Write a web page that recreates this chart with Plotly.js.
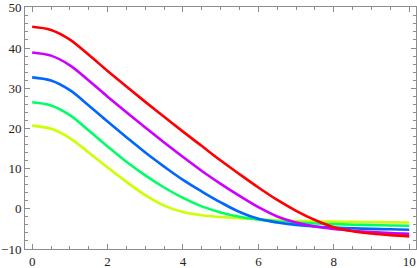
<!DOCTYPE html>
<html>
<head>
<meta charset="utf-8">
<script src="https://cdn.plot.ly/plotly-3.0.1.min.js"></script>
<style>html,body{margin:0;padding:0;background:#fff}#chart{width:417px;height:268px}</style>
</head>
<body>
<div id="chart"></div>
<script>
const xs      = [0,0.5,1,1.5,2,2.5,3,3.5,4,4.5,5,5.5,6,6.5,7,7.5,8,8.5,9,9.5,10];
const redY    = [45.3,44.5,42.1,38.3,34.3,30.4,26.6,22.9,19.2,15.6,12.0,8.6,5.3,2.2,-0.5,-2.8,-4.6,-5.6,-6.15,-6.55,-6.85];
const purpleY = [38.9,38.1,35.7,31.9,27.9,24.0,20.2,16.5,12.9,9.4,6.2,3.2,0.4,-1.9,-3.4,-4.4,-5.0,-5.45,-5.8,-6.05,-6.2];
const blueY   = [32.7,31.9,29.5,25.7,21.7,17.8,14.0,10.5,7.2,4.3,1.6,-0.8,-2.5,-3.4,-4.0,-4.4,-4.65,-4.85,-5.0,-5.1,-5.2];
const greenY  = [26.5,25.7,23.3,19.5,15.5,11.7,8.3,5.3,2.7,0.6,-0.9,-2.0,-2.7,-3.15,-3.45,-3.65,-3.8,-3.95,-4.05,-4.15,-4.2];
const yellowY = [20.7,19.9,17.6,14.0,10.3,6.7,3.4,0.8,-0.8,-1.6,-2.05,-2.35,-2.6,-2.85,-3.0,-3.1,-3.2,-3.25,-3.3,-3.35,-3.4];
const seriesY = [yellowY, greenY, blueY, purpleY, redY];
const colors = ['#ccff00','#00ff66','#0066ff','#cc00ff','#ff0000'];
const xTicks = [0,2,4,6,8,10];
const yTicks = [-10,0,10,20,30,40,50];

const serif = 'Liberation Serif, Times New Roman, Times, serif';

const traces = seriesY.map((ys,i)=>({
  x: xs, y: ys, type:'scatter', mode:'lines',
  line:{color:colors[i], width:2.6, shape:'spline', smoothing:1},
  hoverinfo:'skip', showlegend:false
}));

const axisCommon = {
  showgrid:false, zeroline:false, showline:true, linecolor:'#8c8c8c', linewidth:1,
  mirror:'allticks', ticks:'inside', ticklen:5, tickcolor:'#8c8c8c', tickwidth:1,
  tickfont:{family:serif, size:13, color:'#222'}
};

const layout = {
  width:417, height:268,
  font:{family:serif, size:13, color:'#222'},
  margin:{l:25, r:1, t:7, b:19},
  paper_bgcolor:'#fff', plot_bgcolor:'#fff',
  xaxis: Object.assign({}, axisCommon, {
    range:[-0.19,10.18], tickmode:'array', tickvals:xTicks,
    minor:{dtick:0.5, tick0:0, ticks:'inside', ticklen:3, tickcolor:'#8c8c8c'}
  }),
  yaxis: Object.assign({}, axisCommon, {
    range:[-10,50.2], tickmode:'array', tickvals:yTicks,
    minor:{dtick:2, tick0:0, ticks:'inside', ticklen:3, tickcolor:'#8c8c8c'}
  })
};

Plotly.newPlot('chart', traces, layout, {staticPlot:true, displayModeBar:false});
</script>
</body>
</html>
